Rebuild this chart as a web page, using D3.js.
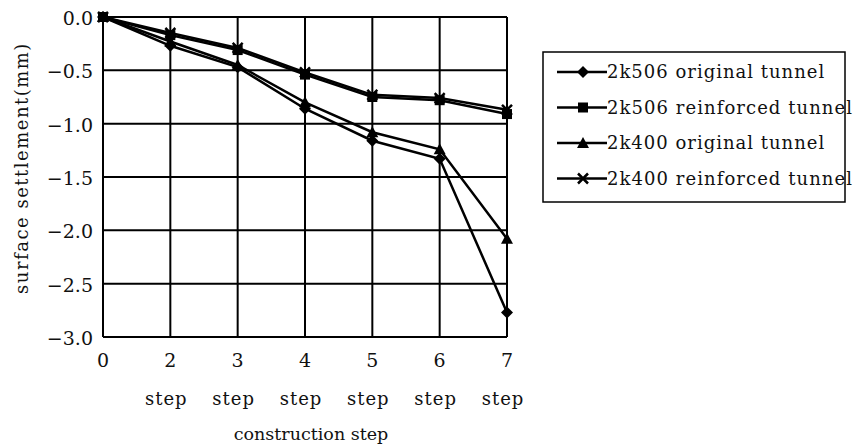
<!DOCTYPE html>
<html>
<head>
<meta charset="utf-8">
<script src="https://cdn.jsdelivr.net/npm/d3@7"></script>
<style>
  body { margin: 0; background: #fff; }
  svg { display: block; }
  svg text { font-family: "DejaVu Serif", serif; fill: #111; }
</style>
</head>
<body>
<svg id="chart" width="857" height="448"></svg>
<script>
const steps = ["0", "2", "3", "4", "5", "6", "7"];
const stepSub = ["", "step", "step", "step", "step", "step", "step"];
const yTicks = [0, -0.5, -1.0, -1.5, -2.0, -2.5, -3.0];

const orig506 = [0, -0.27, -0.47, -0.86, -1.16, -1.33, -2.77];
const reinf506 = [0, -0.17, -0.31, -0.54, -0.75, -0.78, -0.91];
const orig400 = [0, -0.23, -0.45, -0.80, -1.08, -1.24, -2.08];
const reinf400 = [0, -0.15, -0.29, -0.52, -0.73, -0.76, -0.87];

const seriesNames = ["2k506 original tunnel", "2k506 reinforced tunnel", "2k400 original tunnel", "2k400 reinforced tunnel"];
const seriesShapes = ["diamond", "square", "triangle", "cross"];

const series = [orig506, reinf506, orig400, reinf400].map((values, i) => ({
  name: seriesNames[i],
  shape: seriesShapes[i],
  values
}));

const svg = d3.select("#chart");
const plotL = 103, plotR = 507, plotT = 17, plotB = 337;

const x = d3.scalePoint().domain(steps).range([plotL, plotR]);
const y = d3.scaleLinear().domain([0, -3]).range([plotT, plotB]);

// grid
const g = svg.append("g");
g.selectAll(".hgrid").data(yTicks).enter().append("line")
  .attr("x1", plotL).attr("x2", plotR)
  .attr("y1", d => y(d)).attr("y2", d => y(d))
  .attr("stroke", "#000").attr("stroke-width", 2);
g.selectAll(".vgrid").data(steps).enter().append("line")
  .attr("x1", d => x(d)).attr("x2", d => x(d))
  .attr("y1", plotT).attr("y2", plotB)
  .attr("stroke", "#000").attr("stroke-width", 2);

// y tick labels
g.selectAll(".ylab").data(yTicks).enter().append("text")
  .attr("x", plotL - 10).attr("y", d => y(d) + 8)
  .attr("text-anchor", "end")
  .attr("font-size", 19)
  .text(d => d === 0 ? "0.0" : "\u2212" + d3.format(".1f")(-d));

// x tick labels
g.selectAll(".xlab").data(steps).enter().append("text")
  .attr("x", d => x(d)).attr("y", 367)
  .attr("text-anchor", "middle")
  .attr("font-size", 19)
  .text(d => d);
g.selectAll(".xsub").data(steps).enter().append("text")
  .attr("x", d => x(d) - 4).attr("y", 405)
  .attr("text-anchor", "middle")
  .attr("font-size", 18)
  .attr("letter-spacing", 1)
  .text((d, i) => stepSub[i]);

svg.append("text")
  .attr("x", 311).attr("y", 440)
  .attr("text-anchor", "middle")
  .attr("font-size", 17.5)
  .text("construction step");

svg.append("text")
  .attr("transform", "translate(28," + 168 + ") rotate(-90)")
  .attr("text-anchor", "middle")
  .attr("font-size", 18)
  .attr("letter-spacing", 1.5)
  .text("surface settlement(mm)");

function marker(sel, shape, cx, cy) {
  const s = 5;
  if (shape === "diamond") {
    sel.append("path").attr("d", `M${cx},${cy - s - 1}L${cx + s + 1},${cy}L${cx},${cy + s + 1}L${cx - s - 1},${cy}Z`).attr("fill", "#000");
  } else if (shape === "square") {
    sel.append("rect").attr("x", cx - s).attr("y", cy - s).attr("width", 2 * s).attr("height", 2 * s).attr("fill", "#000");
  } else if (shape === "triangle") {
    sel.append("path").attr("d", `M${cx},${cy - s - 1}L${cx + s + 1},${cy + s}L${cx - s - 1},${cy + s}Z`).attr("fill", "#000");
  } else {
    sel.append("path").attr("d", `M${cx - s},${cy - s}L${cx + s},${cy + s}M${cx + s},${cy - s}L${cx - s},${cy + s}`)
      .attr("stroke", "#000").attr("stroke-width", 2.5);
  }
}

const line = d3.line().x((d, i) => x(steps[i])).y(d => y(d));

series.forEach(s => {
  const sg = svg.append("g");
  sg.append("path").datum(s.values)
    .attr("d", line)
    .attr("fill", "none")
    .attr("stroke", "#000")
    .attr("stroke-width", 2.5);
  s.values.forEach((v, i) => marker(sg, s.shape, x(steps[i]), y(v)));
});

// legend
const lg = svg.append("g");
lg.append("rect")
  .attr("x", 543).attr("y", 52).attr("width", 302).attr("height", 150)
  .attr("fill", "none").attr("stroke", "#000").attr("stroke-width", 1.5);
series.forEach((s, i) => {
  const ly = 72 + i * 35.5;
  lg.append("line").attr("x1", 557).attr("x2", 607).attr("y1", ly).attr("y2", ly)
    .attr("stroke", "#000").attr("stroke-width", 2.5);
  marker(lg, s.shape, 583, ly);
  lg.append("text").attr("x", 607).attr("y", ly + 6)
    .attr("font-size", 18)
    .attr("letter-spacing", 1)
    .attr("textLength", s.name.length > 21 ? 246 : null)
    .text(s.name);
});
</script>
</body>
</html>
